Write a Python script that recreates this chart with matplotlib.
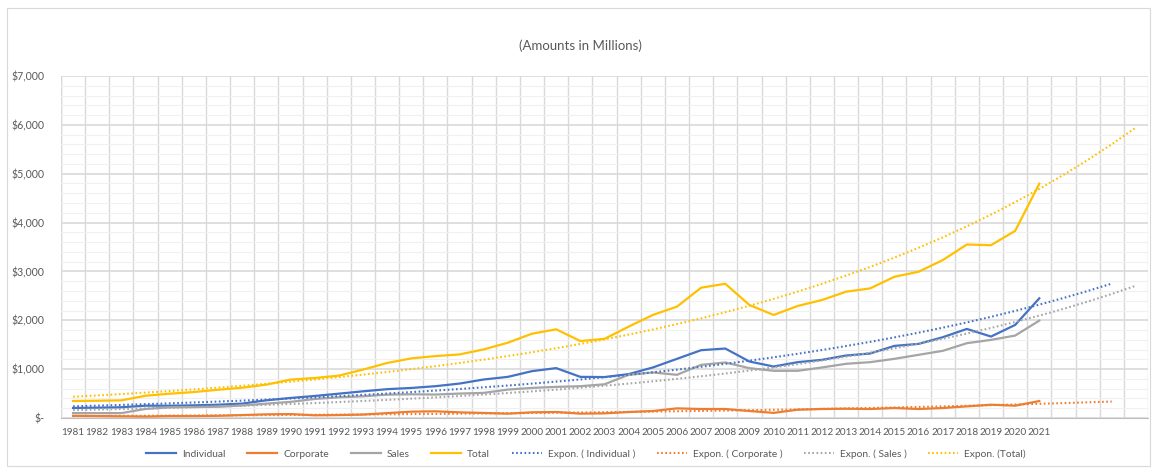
import numpy as np
import matplotlib
matplotlib.use('Agg')
import matplotlib.pyplot as plt
from matplotlib.ticker import MultipleLocator, FuncFormatter
from matplotlib.patches import Rectangle

plt.rcParams['font.family'] = ['Lato', 'DejaVu Sans']

years = list(range(1981, 2022))
individual = [205, 212, 220, 252, 252, 259, 272, 295, 362, 410,
              451, 498, 546, 590, 615, 651, 705, 788, 842, 959,
              1021, 842, 838, 898, 1034, 1211, 1388, 1422, 1156, 1054,
              1143, 1190, 1279, 1320, 1476, 1517, 1653, 1823, 1667, 1905,
              2449]
corporate = [45, 40, 35, 30, 40, 40, 45, 60, 75, 80,
             55, 60, 70, 100, 130, 137, 116, 103, 89, 116,
             123, 89, 95, 122, 143, 197, 184, 184, 143, 105,
             170, 184, 190, 184, 204, 184, 204, 238, 272, 252,
             347]
sales = [100, 100, 100, 185, 218, 224, 230, 256, 294, 330,
         389, 423, 444, 478, 485, 480, 500, 514, 582, 616,
         637, 651, 690, 884, 932, 884, 1088, 1136, 1020, 966,
         966, 1034, 1109, 1143, 1211, 1293, 1374, 1531, 1599, 1687,
         1993]
total = [347, 354, 361, 456, 497, 531, 578, 620, 683, 785,
         819, 867, 990, 1126, 1220, 1267, 1301, 1404, 1541, 1726,
         1815, 1575, 1620, 1870, 2109, 2279, 2667, 2748, 2313, 2109,
         2293, 2415, 2585, 2653, 2891, 2993, 3231, 3551, 3537, 3830,
         4796]

n_cat = 45  # axis keeps empty categories for the forecast
series = [('Individual', individual, '#4472C4', 3, 'Expon. ( Individual )'),
          ('Corporate', corporate, '#ED7D31', 3, 'Expon. ( Corporate )'),
          ('Sales', sales, '#A5A5A5', 4, 'Expon. ( Sales )'),
          ('Total', total, '#FFC000', 4, 'Expon. (Total)')]

fig = plt.figure(figsize=(11.54, 4.68), dpi=100)
ax = fig.add_axes([61/1154, 50/468, 1087/1154, 342/468])

x = np.arange(len(years))
solid = []
trends = []
for name, vals, col, fwd, tname in series:
    l, = ax.plot(x, vals, color=col, lw=1.6, label=name, zorder=3)
    solid.append(l)
for name, vals, col, fwd, tname in series:
    # exponential trendline, like Excel: ln(y) linear in category index
    b, a = np.polyfit(x + 1, np.log(vals), 1)
    xt = np.arange(len(years) + fwd)
    t, = ax.plot(xt, np.exp(a + b*(xt + 1)), color=col, lw=1.5,
                 ls=(0, (0.8, 1.2)), label=tname, zorder=4)
    trends.append(t)

ax.set_xlim(-0.5, n_cat - 0.5)
ax.set_ylim(0, 7000)
ax.set_xticks(x)
ax.set_xticklabels([str(y) for y in years])
ax.xaxis.set_minor_locator(MultipleLocator(1, offset=0.5))
ax.yaxis.set_major_locator(MultipleLocator(1000))
ax.yaxis.set_minor_locator(MultipleLocator(200))
ax.yaxis.set_major_formatter(FuncFormatter(lambda v, p: '$-' if v == 0 else '${:,.0f}'.format(v)))

ax.grid(True, which='minor', axis='x', color='#d9d9d9', lw=1.0)
ax.grid(True, which='major', axis='y', color='#d9d9d9', lw=1.2)
ax.grid(True, which='minor', axis='y', color='#f0f0f0', lw=0.8)
ax.set_axisbelow(True)
for s in ['top', 'right', 'left']:
    ax.spines[s].set_visible(False)
ax.spines['bottom'].set_color('#bfbfbf')
ax.axvline(-0.5, color='#d9d9d9', lw=1.0, zorder=0)
ax.tick_params(which='both', length=0)
ax.tick_params(axis='x', labelsize=7.2, colors='#595959', pad=7)
ax.tick_params(axis='y', labelsize=7.6, colors='#595959', pad=12)

fig.text(0.503, 1 - 46/468, '(Amounts in Millions)', ha='center', va='center',
         fontsize=9.5, color='#595959')

fig.legend(handles=solid + trends, loc='center', bbox_to_anchor=(0.508, 1 - 454/468),
           ncol=8, frameon=False, fontsize=7.4, labelcolor='#595959',
           handlelength=2.9, handletextpad=0.6, columnspacing=2.1)

fig.add_artist(Rectangle((7/1154, 2/468), 1143/1154, 458/468, transform=fig.transFigure,
                         fill=False, edgecolor='#d9d9d9', lw=0.8))

fig.savefig('out.png', dpi=100)
